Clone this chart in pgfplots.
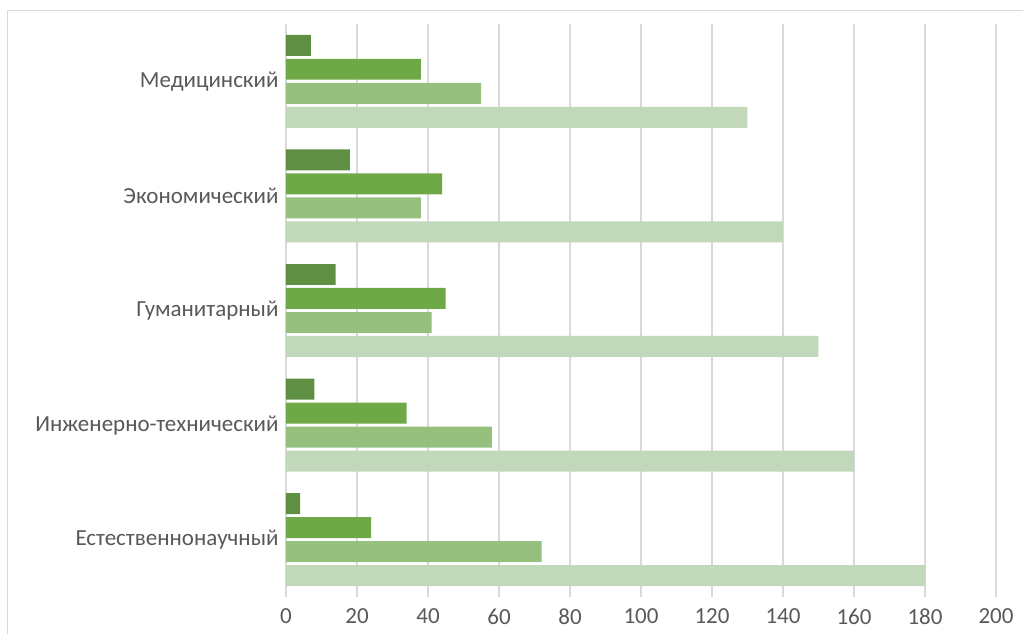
\documentclass[border=0pt]{standalone}
\usepackage{pgfplots}
\pgfplotsset{compat=1.18}
\usepackage{fontspec}
\setmainfont{Carlito}
\definecolor{cdark}{HTML}{5F8F42}
\definecolor{cgreen}{HTML}{6FA846}
\definecolor{clight}{HTML}{96C07D}
\definecolor{clightest}{HTML}{C1D8BA}
\definecolor{gridgray}{HTML}{D9D9D9}
\definecolor{textgray}{HTML}{595959}
\begin{document}
\begin{tikzpicture}[x=1pt,y=1pt]
\useasboundingbox (-286,-37) rectangle (737,597);
\clip (-286,-37) rectangle (737,597);
\draw[gridgray, line width=1pt] (-278,-60) rectangle (760,586);
\begin{axis}[
  at={(0,0)}, anchor=south west,
  scale only axis, width=710pt, height=573pt,
  xbar, xmin=0, xmax=200, ymin=-0.5, ymax=4.5,
  enlargelimits=false,
  xtick={0,20,...,200},
  ytick={0,1,2,3,4},
  yticklabels={Естественнонаучный, Инженерно-технический, Гуманитарный, Экономический, Медицинский},
  axis line style={draw=none},
  major tick length=0pt,
  xmajorgrids, ymajorgrids=false,
  grid style={gridgray, line width=1.5pt},
  tick label style={font=\fontsize{23}{27}\selectfont, text=textgray},
  xticklabel style={yshift=-8pt},
  yticklabel style={xshift=-4pt},
  /pgf/number format/assume math mode=true,
  bar width=0.183,
]
\addplot[fill=cdark, draw=none, bar shift=0.314] coordinates {(4,0) (8,1) (14,2) (18,3) (7,4)};
\addplot[fill=cgreen, draw=none, bar shift=0.105] coordinates {(24,0) (34,1) (45,2) (44,3) (38,4)};
\addplot[fill=clight, draw=none, bar shift=-0.105] coordinates {(72,0) (58,1) (41,2) (38,3) (55,4)};
\addplot[fill=clightest, draw=none, bar shift=-0.314] coordinates {(180,0) (160,1) (150,2) (140,3) (130,4)};
\end{axis}
\end{tikzpicture}
\end{document}
